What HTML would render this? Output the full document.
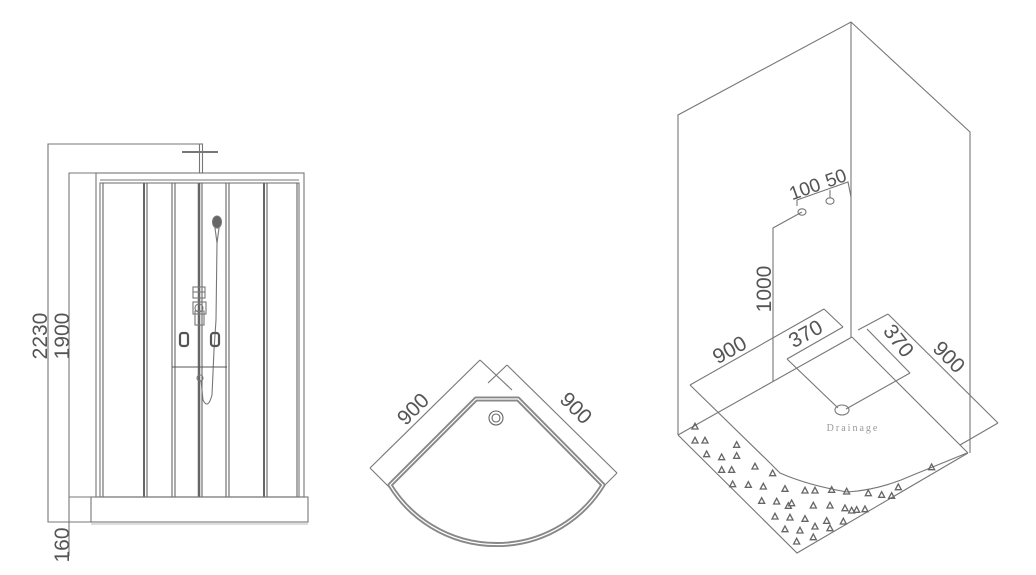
<!DOCTYPE html>
<html><head><meta charset="utf-8"><style>
html,body{margin:0;padding:0;background:#fff;}
svg{display:block}
text{font-family:"Liberation Sans",sans-serif;fill:#555}
</style></head><body>
<svg width="1036" height="575" viewBox="0 0 1036 575" xmlns="http://www.w3.org/2000/svg">
<g fill="none" stroke="#777" stroke-width="1.1">
<!-- LEFT VIEW -->
<polyline points="200,144 48,144 48,522 91,522"/>
<polyline points="96,173 69,173 69,556"/>
<line x1="69" y1="497" x2="91" y2="497"/>
<!-- shower head -->
<rect x="199.5" y="144" width="3" height="29"/>
<line x1="182" y1="152" x2="218" y2="152" stroke-width="2"/>
<!-- frame -->
<rect x="96" y="173" width="208" height="324"/>
<rect x="100" y="183" width="199" height="314"/>
<line x1="100" y1="180" x2="299" y2="180"/>
<g stroke="#666">
<line x1="103" y1="183" x2="103" y2="497"/>
<line x1="144" y1="183" x2="144" y2="497" stroke-width="2"/><line x1="147" y1="183" x2="147" y2="497"/>
<line x1="172" y1="183" x2="172" y2="497"/><line x1="175" y1="183" x2="175" y2="497"/>
<line x1="199" y1="183" x2="199" y2="497" stroke-width="2.5"/><line x1="202" y1="183" x2="202" y2="497"/>
<line x1="226" y1="183" x2="226" y2="497"/><line x1="229" y1="183" x2="229" y2="497"/>
<line x1="264" y1="183" x2="264" y2="497" stroke-width="2"/><line x1="267" y1="183" x2="267" y2="497"/>
<line x1="297" y1="183" x2="297" y2="497"/>
</g>
<rect x="91" y="497" width="217" height="25"/>
<line x1="91" y1="524" x2="308" y2="524" stroke="#bbb"/>
<!-- handset -->
<ellipse cx="217" cy="222" rx="4.5" ry="6" fill="#666"/>
<path d="M215,228 L217,243 L219,228"/>
<path d="M217,243 L216,320 L214,350 L212,395 Q208,410 203,400 L201,380"/>
<!-- controls -->
<rect x="193" y="287" width="12" height="11"/>
<line x1="193" y1="292" x2="205" y2="292"/>
<rect x="193" y="302" width="13" height="12"/>
<circle cx="199" cy="308" r="4"/>
<rect x="195" y="311" width="9" height="14"/>
<rect x="180" y="333" width="8" height="13" rx="2.5" stroke="#555" stroke-width="2.2"/>
<rect x="211" y="333" width="8" height="13" rx="2.5" stroke="#555" stroke-width="2.2"/>
<line x1="172" y1="367" x2="227" y2="367" stroke="#555"/>
<circle cx="200" cy="378" r="3"/>

<!-- MIDDLE VIEW -->
<line x1="370" y1="468" x2="480" y2="360"/>
<line x1="480" y1="360" x2="512" y2="390"/>
<line x1="370" y1="468" x2="392" y2="490"/>
<line x1="507" y1="365" x2="617" y2="473"/>
<line x1="507" y1="365" x2="488" y2="383"/>
<line x1="617" y1="473" x2="602" y2="488"/>
<path d="M390,485 L476,399 L518,399 L603,485 A125,125 0 0 1 390,485 Z" stroke="#888" stroke-width="5" stroke-linejoin="round"/>
<path d="M390,485 L476,399 L518,399 L603,485 A125,125 0 0 1 390,485 Z" stroke="#fff" stroke-width="1.2"/>
<circle cx="496" cy="418" r="7" stroke="#666"/>
<circle cx="496" cy="418" r="4" stroke="#666"/>

<!-- RIGHT VIEW -->
<polyline points="678,435 678,115 851,22 970,132 970,453"/>
<line x1="851" y1="22" x2="851" y2="337"/>
<line x1="678" y1="435" x2="852" y2="337"/>
<line x1="852" y1="337" x2="968" y2="453"/>
<polyline points="678,435 797,553 968,453"/>
<polyline points="773,382 773,228 802,212"/>
<ellipse cx="802" cy="212" rx="4" ry="3.2"/>
<ellipse cx="830" cy="201" rx="4" ry="3.2"/>
<polyline points="797,206 797,200 848,182 851,197"/>
<line x1="830" y1="190" x2="830" y2="198"/>
<line x1="690" y1="385" x2="824" y2="309"/>
<line x1="824" y1="309" x2="843" y2="327"/>
<path d="M690,385 L770,463 L780,473 Q807,485 847,492 Q880,490 913,475 L967,453"/>
<line x1="787" y1="359" x2="843" y2="327"/>
<line x1="787" y1="359" x2="838" y2="408"/>
<line x1="846" y1="409" x2="910" y2="373"/>
<line x1="867" y1="329" x2="910" y2="373"/>
<line x1="858" y1="330" x2="888" y2="314"/>
<line x1="888" y1="314" x2="998" y2="423"/>
<line x1="998" y1="423" x2="960" y2="445"/>
<ellipse cx="842" cy="410" rx="7" ry="5"/>
</g>

<g transform="translate(680,420) scale(0.3333)" fill="none" stroke="#666" stroke-width="4">
<path d="M45,10 l-9,17 h18z M45,52 l-9,17 h18z M75,52 l-9,17 h18z M170,65 l-9,17 h18z M80,93 l-9,17 h18z M125,102 l-9,17 h18z M170,98 l-9,17 h18z M125,140 l-9,17 h18z M155,140 l-9,17 h18z M225,130 l-9,17 h18z M278,150 l-9,17 h18z M158,183 l-9,17 h18z M205,185 l-9,17 h18z M250,190 l-9,17 h18z M315,197 l-9,17 h18z M375,202 l-9,17 h18z M405,202 l-9,17 h18z M455,200 l-9,17 h18z M500,205 l-9,17 h18z M565,210 l-9,17 h18z M605,215 l-9,17 h18z M635,218 l-9,17 h18z M655,192 l-9,17 h18z M755,132 l-9,17 h18z M245,233 l-9,17 h18z M290,235 l-9,17 h18z M335,240 l-9,17 h18z M325,248 l-9,17 h18z M400,247 l-9,17 h18z M450,247 l-9,17 h18z M495,255 l-9,17 h18z M515,262 l-9,17 h18z M530,260 l-9,17 h18z M555,258 l-9,17 h18z M285,280 l-9,17 h18z M330,283 l-9,17 h18z M375,287 l-9,17 h18z M440,293 l-9,17 h18z M490,295 l-9,17 h18z M405,310 l-9,17 h18z M450,315 l-9,17 h18z M315,318 l-9,17 h18z M360,322 l-9,17 h18z M400,342 l-9,17 h18z M350,355 l-9,17 h18z"/>
</g>

<text transform="translate(47,336) rotate(-90)" font-size="21" text-anchor="middle">2230</text>
<text transform="translate(69,336) rotate(-90)" font-size="21" text-anchor="middle">1900</text>
<text transform="translate(69,545) rotate(-90)" font-size="21" text-anchor="middle">160</text>
<text transform="translate(418,414) rotate(-45)" font-size="21" text-anchor="middle">900</text>
<text transform="translate(571,413) rotate(45)" font-size="21" text-anchor="middle">900</text>
<text transform="translate(733,356) rotate(-29)" font-size="21" text-anchor="middle">900</text>
<text transform="translate(809,340) rotate(-29)" font-size="21" text-anchor="middle">370</text>
<text transform="translate(893,345) rotate(52)" font-size="21" text-anchor="middle">370</text>
<text transform="translate(944,362) rotate(45)" font-size="21" text-anchor="middle">900</text>
<text transform="translate(771,289) rotate(-90)" font-size="21" text-anchor="middle">1000</text>
<text transform="translate(807,195) rotate(-20)" font-size="19" text-anchor="middle">100</text>
<text transform="translate(838,184) rotate(-20)" font-size="19" text-anchor="middle">50</text>
<text x="853" y="431" font-size="10" text-anchor="middle" letter-spacing="2" style="font-family:'Liberation Serif',serif;fill:#999">Drainage</text>
</svg>
</body></html>
